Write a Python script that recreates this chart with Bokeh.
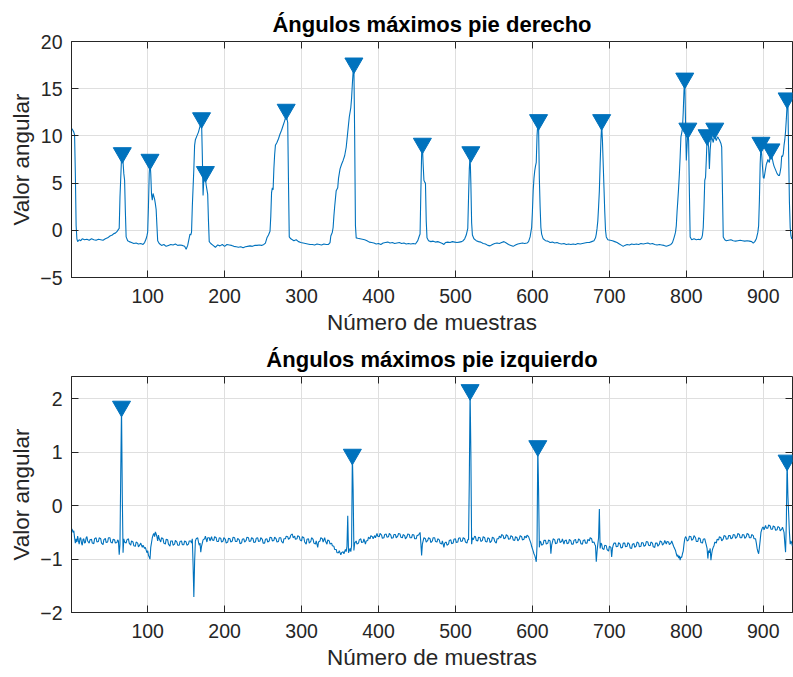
from bokeh.plotting import figure
from bokeh.models import Range1d, LinearAxis, FixedTicker
from bokeh.layouts import column
from bokeh.embed import file_html
from bokeh.resources import INLINE

# ---------------- data ----------------
x_ticks = [100, 200, 300, 400, 500, 600, 700, 800, 900]
right_yticks = [-5, 0, 5, 10, 15, 20]
left_yticks = [-2, -1, 0, 1, 2]

titles = ["Ángulos máximos pie derecho", "Ángulos máximos pie izquierdo"]
x_label = "Número de muestras"
y_label = "Valor angular"

# right foot signal: (sample, value)
right_samples = [
    (1, 10.8), (2, 10.7), (4, 10.4), (5, 10.1), (6, 6.0), (7, 0.5), (8, -0.9), (9, -1.2), (11, -1.0),
    (13, -1.1), (15, -0.9), (18, -1.0), (21, -0.95), (24, -1.05), (27, -0.9), (30, -1.0), (33, -1.05),
    (36, -0.95), (39, -1.0), (42, -1.05), (45, -0.9), (48, -0.8), (51, -0.6), (54, -0.5), (56, -0.35),
    (58, -0.3), (60, -0.15), (62, 0.1), (63, 0.2), (64, 3.5), (66, 7.6), (67, 8.1), (68, 7.2), (69, 6.0),
    (70, 5.3), (71, 2.0), (72, -0.7), (74, -1.1), (76, -1.2), (79, -1.3), (82, -1.4), (85, -1.35),
    (88, -1.45), (91, -1.4), (94, -1.5), (96, -1.3), (98, -0.9), (99, -0.6), (100, -0.2), (101, 2.5),
    (102, 6.0), (103, 7.4), (104, 6.0), (105, 3.8), (106, 3.2), (107, 3.9), (108, 3.6), (109, 3.3),
    (110, 2.8), (111, 2.2), (112, 0.5), (113, -1.1), (115, -1.4), (118, -1.6), (121, -1.5), (124, -1.7),
    (127, -1.6), (130, -1.5), (133, -1.55), (136, -1.45), (139, -1.6), (142, -1.55), (145, -1.6),
    (148, -1.7), (150, -2.0), (152, -1.6), (154, -0.8), (155, -0.4), (156, -0.5), (157, -0.2), (158, 2.5),
    (159, 4.5), (160, 6.5), (161, 9.0), (162, 9.6), (164, 10.0), (166, 10.4), (168, 11.0), (170, 11.6),
    (171, 8.0), (172, 3.7), (173, 5.5), (174, 6.0), (175, 5.5), (176, 4.8), (177, 4.3), (178, 3.8),
    (179, 1.0), (180, -1.2), (182, -1.4), (185, -1.6), (188, -1.8), (191, -1.55), (194, -1.65),
    (197, -1.5), (200, -1.7), (203, -1.5), (206, -1.55), (209, -1.6), (212, -1.7), (215, -1.75),
    (218, -1.8), (221, -1.75), (224, -1.85), (227, -1.75), (230, -1.7), (233, -1.65), (236, -1.7),
    (239, -1.6), (242, -1.6), (245, -1.55), (248, -1.6), (251, -1.5), (253, -1.35), (255, -0.8),
    (257, -0.5), (259, -0.1), (260, 1.5), (261, 4.0), (262, 4.5), (263, 4.3), (264, 6.5), (265, 8.0),
    (266, 9.0), (268, 9.3), (270, 9.7), (272, 10.2), (274, 10.6), (276, 11.1), (278, 11.6), (280, 12.2),
    (282, 11.4), (283, 5.0), (284, -0.7), (286, -0.9), (288, -1.0), (290, -1.1), (293, -1.0), (296, -1.2),
    (299, -1.3), (302, -1.35), (305, -1.4), (308, -1.45), (311, -1.5), (314, -1.5), (317, -1.55),
    (320, -1.45), (323, -1.5), (326, -1.55), (329, -1.45), (332, -1.5), (335, -1.5), (337, -1.3),
    (338, -0.6), (340, -0.2), (341, 0.3), (342, 1.5), (343, 2.5), (345, 4.2), (347, 4.5), (348, 5.5),
    (350, 6.5), (352, 7.0), (354, 7.4), (356, 7.9), (358, 8.8), (360, 10.4), (362, 12.0), (364, 13.0),
    (365, 14.0), (366, 15.5), (367, 16.8), (368, 17.3), (369, 10.0), (370, 0.5), (371, -0.8), (373, -0.85),
    (376, -0.9), (379, -0.95), (382, -1.0), (385, -1.1), (388, -1.25), (391, -1.3), (394, -1.35),
    (397, -1.45), (400, -1.4), (403, -1.5), (406, -1.35), (409, -1.3), (412, -1.25), (415, -1.35),
    (418, -1.3), (421, -1.4), (424, -1.35), (427, -1.3), (430, -1.4), (433, -1.35), (436, -1.45),
    (439, -1.4), (442, -1.45), (445, -1.4), (448, -1.45), (451, -1.1), (453, -0.6), (454, -0.4),
    (455, 4.0), (456, 8.0), (457, 9.0), (458, 7.0), (459, 5.3), (460, 5.1), (461, 5.0), (462, 1.0),
    (463, -0.8), (465, -1.1), (468, -1.2), (471, -1.15), (474, -1.25), (477, -1.2), (480, -1.3),
    (483, -1.4), (485, -1.5), (487, -1.3), (490, -1.25), (493, -1.3), (496, -1.2), (499, -1.25),
    (502, -1.3), (505, -1.25), (508, -1.2), (510, -1.1), (512, -0.9), (514, -0.5), (516, 0.2), (517, 3.5),
    (518, 6.5), (519, 8.0), (520, 5.0), (521, 0.8), (522, -0.5), (524, -0.9), (527, -1.1), (530, -1.2),
    (533, -1.25), (536, -1.4), (539, -1.45), (542, -1.6), (545, -1.65), (548, -1.5), (551, -1.4),
    (554, -1.35), (557, -1.4), (560, -1.3), (563, -1.2), (566, -1.35), (569, -1.5), (572, -1.6),
    (575, -1.7), (578, -1.55), (581, -1.45), (584, -1.4), (587, -1.35), (590, -1.4), (593, -1.35),
    (595, -1.2), (597, -0.7), (598, -0.2), (599, 0.3), (600, 2.0), (601, 4.2), (602, 5.5), (603, 6.3),
    (604, 6.8), (605, 7.2), (606, 10.0), (607, 11.3), (608, 11.0), (609, 5.5), (610, 2.5), (611, 0.3),
    (612, -0.4), (614, -0.9), (617, -1.1), (620, -1.15), (623, -1.3), (626, -1.25), (629, -1.35),
    (632, -1.3), (635, -1.4), (638, -1.45), (641, -1.4), (644, -1.5), (647, -1.45), (650, -1.5),
    (653, -1.45), (656, -1.5), (659, -1.4), (662, -1.45), (665, -1.4), (668, -1.35), (671, -1.3),
    (674, -1.3), (677, -1.2), (680, -1.1), (682, -0.8), (683, -0.4), (684, 0.2), (685, 1.0), (686, 2.5),
    (687, 4.2), (688, 7.0), (689, 9.5), (690, 11.2), (691, 9.5), (692, 7.0), (693, 4.5), (694, 2.0),
    (695, 0.0), (696, -0.7), (698, -1.0), (701, -1.05), (704, -1.1), (707, -1.2), (710, -1.3),
    (713, -1.45), (716, -1.6), (718, -1.7), (720, -1.6), (723, -1.5), (726, -1.55), (729, -1.45),
    (732, -1.5), (735, -1.45), (738, -1.5), (741, -1.4), (744, -1.45), (747, -1.4), (750, -1.35),
    (753, -1.45), (756, -1.4), (759, -1.5), (762, -1.55), (765, -1.5), (768, -1.55), (771, -1.6),
    (774, -1.7), (777, -1.6), (780, -1.5), (782, -1.3), (784, -0.8), (785, -0.5), (786, -0.2), (787, 0.5),
    (788, 2.0), (789, 3.2), (790, 4.5), (791, 6.0), (792, 7.8), (793, 9.9), (794, 10.3), (795, 10.8),
    (796, 12.5), (797, 14.8), (798, 15.9), (799, 11.3), (800, 7.4), (801, 9.0), (802, 10.5), (803, 9.5),
    (804, 4.0), (805, -0.7), (807, -1.0), (810, -0.9), (813, -1.0), (816, -0.95), (818, -1.0), (820, -0.8),
    (821, -0.5), (822, 0.3), (823, 2.5), (824, 5.3), (825, 5.6), (826, 7.5), (827, 9.7), (828, 9.5),
    (829, 8.8), (830, 6.5), (831, 8.5), (832, 9.5), (833, 9.9), (834, 9.6), (835, 9.3), (836, 9.8),
    (837, 10.3), (838, 9.7), (839, 9.5), (840, 9.8), (841, 9.9), (842, 9.7), (843, 9.6), (845, 9.2),
    (846, 8.8), (847, 4.0), (848, -0.7), (850, -1.0), (852, -1.1), (855, -1.05), (858, -1.0), (861, -1.1),
    (864, -1.15), (867, -1.1), (870, -1.05), (873, -1.1), (876, -1.15), (879, -1.1), (882, -1.15),
    (885, -1.2), (887, -1.35), (889, -1.2), (891, -0.9), (893, -0.2), (894, 0.5), (895, 3.2), (896, 7.0),
    (897, 9.0), (898, 8.0), (899, 6.7), (900, 5.6), (901, 5.5), (902, 6.0), (903, 6.5), (904, 7.0),
    (905, 7.2), (906, 7.5), (907, 7.3), (908, 7.2), (909, 8.0), (910, 8.4), (911, 7.9), (912, 7.5),
    (913, 7.1), (914, 6.8), (916, 6.4), (918, 6.0), (920, 5.8), (921, 5.8), (922, 6.2), (923, 6.7),
    (924, 7.9), (925, 7.8), (926, 8.1), (927, 9.0), (928, 9.6), (929, 10.5), (930, 11.8), (931, 13.3),
    (932, 13.7), (933, 8.0), (934, 3.0), (935, 0.3), (936, -0.6), (937, -0.9), (938, -0.8),
]
right_peak_x = [67, 103, 170, 175, 280, 368, 457, 520, 608, 690, 798, 802, 827, 837, 897, 910, 931]
right_peak_y = [8.2, 7.5, 11.9, 6.2, 12.8, 17.7, 9.2, 8.3, 11.7, 11.7, 16.1, 10.8, 10.1, 10.8, 9.3, 8.6, 14.0]

# left foot signal: (sample, value)
left_samples = [
    (1, -0.43), (2, -0.45), (3, -0.5), (4, -0.47), (5, -0.6), (6, -0.7), (7, -0.62), (8, -0.68),
    (9, -0.57), (10, -0.66), (11, -0.72), (12, -0.61), (13, -0.6), (14, -0.7), (15, -0.74), (16, -0.63),
    (17, -0.62), (18, -0.7), (19, -0.69), (20, -0.6), (21, -0.58), (22, -0.66), (24, -0.7), (25, -0.64),
    (27, -0.63), (28, -0.7), (30, -0.71), (31, -0.62), (33, -0.6), (34, -0.68), (36, -0.67), (37, -0.6),
    (39, -0.62), (40, -0.7), (42, -0.73), (43, -0.64), (45, -0.61), (46, -0.69), (48, -0.68), (49, -0.6),
    (51, -0.6), (52, -0.68), (54, -0.7), (55, -0.63), (57, -0.64), (58, -0.7), (60, -0.69), (61, -0.64),
    (62, -0.66), (63, -0.92), (64, -0.72), (65, 0.6), (66, 1.86), (67, 0.2), (68, -0.88), (69, -0.62),
    (70, -0.68), (72, -0.7), (73, -0.64), (75, -0.62), (76, -0.7), (78, -0.74), (79, -0.66), (81, -0.68),
    (82, -0.75), (84, -0.76), (85, -0.68), (87, -0.7), (88, -0.77), (90, -0.73), (91, -0.7), (93, -0.78),
    (94, -0.74), (96, -0.8), (97, -0.78), (99, -0.88), (100, -0.84), (101, -0.93), (102, -0.96),
    (103, -1.0), (104, -0.78), (106, -0.6), (107, -0.55), (108, -0.52), (109, -0.58), (110, -0.49),
    (111, -0.53), (112, -0.58), (113, -0.66), (114, -0.55), (115, -0.62), (117, -0.68), (118, -0.6),
    (120, -0.62), (121, -0.7), (123, -0.72), (124, -0.63), (126, -0.64), (127, -0.72), (129, -0.76),
    (130, -0.66), (132, -0.66), (133, -0.74), (135, -0.72), (136, -0.65), (138, -0.68), (139, -0.74),
    (141, -0.74), (142, -0.67), (144, -0.66), (145, -0.73), (147, -0.73), (148, -0.66), (150, -0.68),
    (151, -0.74), (153, -0.72), (154, -0.66), (156, -0.66), (157, -0.7), (158, -0.62), (159, -1.1),
    (160, -1.71), (161, -1.05), (162, -0.66), (163, -0.62), (165, -0.6), (166, -0.68), (167, -0.74),
    (168, -0.7), (169, -0.87), (170, -0.76), (171, -0.7), (172, -0.64), (174, -0.62), (175, -0.57),
    (177, -0.68), (178, -0.6), (180, -0.6), (181, -0.66), (183, -0.58), (184, -0.64), (186, -0.65),
    (187, -0.58), (189, -0.6), (190, -0.67), (192, -0.67), (193, -0.6), (195, -0.61), (196, -0.68),
    (198, -0.66), (199, -0.6), (201, -0.63), (202, -0.7), (204, -0.68), (205, -0.61), (207, -0.62),
    (208, -0.68), (210, -0.66), (211, -0.59), (213, -0.6), (214, -0.67), (216, -0.67), (217, -0.61),
    (219, -0.64), (220, -0.71), (222, -0.7), (223, -0.63), (225, -0.62), (226, -0.68), (228, -0.65),
    (229, -0.59), (231, -0.6), (232, -0.67), (234, -0.66), (235, -0.6), (237, -0.62), (238, -0.69),
    (240, -0.68), (241, -0.61), (243, -0.6), (244, -0.67), (246, -0.66), (247, -0.6), (249, -0.63),
    (250, -0.7), (252, -0.7), (253, -0.63), (255, -0.62), (256, -0.68), (258, -0.66), (259, -0.59),
    (261, -0.6), (262, -0.66), (264, -0.65), (265, -0.59), (267, -0.62), (268, -0.68), (270, -0.67),
    (271, -0.6), (273, -0.6), (274, -0.67), (276, -0.7), (277, -0.62), (279, -0.62), (280, -0.57),
    (282, -0.58), (283, -0.63), (285, -0.6), (286, -0.55), (288, -0.53), (289, -0.6), (291, -0.57),
    (292, -0.63), (294, -0.62), (295, -0.56), (297, -0.58), (298, -0.64), (300, -0.66), (301, -0.58),
    (303, -0.6), (304, -0.68), (306, -0.72), (307, -0.63), (309, -0.62), (310, -0.7), (312, -0.67),
    (313, -0.6), (315, -0.63), (316, -0.7), (318, -0.72), (319, -0.66), (321, -0.78), (322, -0.68),
    (324, -0.66), (325, -0.6), (327, -0.62), (328, -0.68), (330, -0.6), (331, -0.66), (333, -0.72),
    (334, -0.64), (336, -0.66), (337, -0.72), (339, -0.7), (340, -0.75), (342, -0.76), (343, -0.82),
    (345, -0.82), (346, -0.88), (348, -0.88), (349, -0.84), (351, -0.92), (352, -0.88), (354, -0.86),
    (355, -0.9), (357, -0.82), (358, -0.86), (359, -0.76), (360, -0.19), (361, -0.88), (363, -0.8),
    (364, -0.86), (365, -0.75), (366, 0.96), (367, 0.3), (368, -0.84), (369, -0.7), (371, -0.66),
    (372, -0.72), (374, -0.7), (375, -0.64), (377, -0.62), (378, -0.69), (380, -0.68), (381, -0.62),
    (383, -0.72), (384, -0.66), (386, -0.65), (387, -0.59), (389, -0.62), (390, -0.56), (392, -0.58),
    (393, -0.62), (395, -0.56), (396, -0.6), (398, -0.52), (399, -0.57), (401, -0.58), (402, -0.52),
    (404, -0.55), (405, -0.61), (407, -0.6), (408, -0.54), (410, -0.53), (411, -0.59), (413, -0.58),
    (414, -0.52), (416, -0.55), (417, -0.61), (419, -0.6), (420, -0.54), (422, -0.54), (423, -0.6),
    (425, -0.57), (426, -0.52), (428, -0.53), (429, -0.59), (431, -0.6), (432, -0.54), (434, -0.56),
    (435, -0.62), (437, -0.58), (438, -0.53), (440, -0.54), (441, -0.6), (443, -0.6), (444, -0.54),
    (446, -0.55), (447, -0.62), (449, -0.62), (450, -0.56), (452, -0.55), (454, -0.5), (455, -0.7),
    (456, -0.93), (457, -0.72), (458, -0.66), (459, -0.6), (461, -0.62), (462, -0.68), (464, -0.65),
    (465, -0.6), (467, -0.62), (468, -0.69), (470, -0.66), (471, -0.6), (473, -0.6), (474, -0.67),
    (476, -0.68), (477, -0.62), (479, -0.64), (480, -0.7), (482, -0.72), (483, -0.66), (485, -0.78),
    (486, -0.7), (488, -0.68), (489, -0.74), (491, -0.72), (492, -0.65), (494, -0.64), (495, -0.71),
    (497, -0.7), (498, -0.63), (500, -0.62), (501, -0.69), (503, -0.68), (504, -0.61), (506, -0.6),
    (507, -0.67), (509, -0.66), (510, -0.6), (512, -0.62), (513, -0.68), (515, -0.7), (516, -0.63),
    (517, -0.64), (518, 0.5), (519, 2.17), (520, 1.0), (521, -0.72), (522, -0.6), (523, -0.64),
    (525, -0.57), (526, -0.58), (527, -0.65), (529, -0.66), (530, -0.59), (532, -0.6), (533, -0.67),
    (535, -0.65), (536, -0.58), (538, -0.6), (539, -0.67), (541, -0.68), (542, -0.6), (544, -0.62),
    (545, -0.69), (547, -0.66), (548, -0.59), (550, -0.61), (551, -0.67), (553, -0.7), (554, -0.62),
    (556, -0.62), (557, -0.57), (559, -0.6), (560, -0.54), (562, -0.56), (563, -0.62), (565, -0.6),
    (566, -0.54), (568, -0.57), (569, -0.63), (571, -0.62), (572, -0.56), (574, -0.58), (575, -0.64),
    (577, -0.65), (578, -0.58), (580, -0.6), (581, -0.66), (583, -0.62), (584, -0.56), (586, -0.58),
    (587, -0.64), (589, -0.63), (590, -0.57), (592, -0.6), (593, -0.55), (595, -0.58), (596, -0.62),
    (598, -0.7), (599, -0.76), (601, -0.85), (602, -0.9), (603, -0.93), (604, -0.98), (605, -1.05),
    (606, -0.75), (607, 1.12), (608, 0.3), (609, -0.78), (610, -0.66), (611, -0.68), (612, -0.74),
    (614, -0.72), (615, -0.65), (617, -0.65), (618, -0.72), (620, -0.7), (621, -0.64), (623, -0.66),
    (624, -0.9), (625, -0.74), (626, -0.68), (627, -0.62), (629, -0.64), (630, -0.71), (632, -0.7),
    (633, -0.63), (635, -0.62), (636, -0.69), (638, -0.67), (639, -0.62), (641, -0.72), (642, -0.66),
    (644, -0.64), (645, -0.71), (647, -0.7), (648, -0.63), (650, -0.66), (651, -0.72), (653, -0.72),
    (654, -0.65), (656, -0.63), (657, -0.7), (659, -0.68), (660, -0.62), (662, -0.65), (663, -0.71),
    (665, -0.72), (666, -0.65), (668, -0.64), (669, -0.7), (671, -0.7), (672, -0.63), (674, -0.66),
    (675, -0.6), (677, -0.62), (678, -0.69), (680, -0.68), (681, -0.72), (682, -0.75), (683, -1.05),
    (684, -0.86), (685, -0.72), (686, -0.6), (687, -0.06), (688, -0.8), (689, -0.7), (690, -0.72),
    (691, -0.8), (693, -0.82), (694, -0.74), (696, -0.75), (697, -0.82), (699, -0.85), (700, -0.76),
    (702, -0.78), (703, -0.96), (704, -0.8), (705, -0.74), (706, -0.7), (708, -0.7), (709, -0.77),
    (711, -0.76), (712, -0.69), (714, -0.72), (715, -0.79), (717, -0.78), (718, -0.7), (720, -0.7),
    (721, -0.77), (723, -0.76), (724, -0.69), (726, -0.72), (727, -0.79), (729, -0.8), (730, -0.72),
    (732, -0.71), (733, -0.78), (735, -0.75), (736, -0.68), (738, -0.7), (739, -0.77), (741, -0.76),
    (742, -0.69), (744, -0.7), (745, -0.76), (747, -0.74), (748, -0.67), (750, -0.68), (751, -0.74),
    (753, -0.75), (754, -0.68), (756, -0.7), (757, -0.77), (759, -0.78), (760, -0.7), (762, -0.7),
    (763, -0.76), (765, -0.72), (766, -0.66), (768, -0.68), (769, -0.74), (771, -0.7), (772, -0.65),
    (774, -0.72), (775, -0.67), (777, -0.68), (778, -0.73), (780, -0.7), (781, -0.66), (783, -0.74),
    (784, -0.78), (786, -0.84), (787, -0.9), (788, -0.95), (789, -0.92), (790, -0.98), (791, -0.94),
    (792, -1.02), (793, -0.96), (794, -0.97), (795, -0.9), (796, -0.85), (797, -0.72), (798, -0.62),
    (799, -0.58), (800, -0.6), (801, -0.66), (803, -0.64), (804, -0.57), (806, -0.58), (807, -0.65),
    (809, -0.62), (810, -0.56), (812, -0.6), (813, -0.67), (815, -0.67), (816, -0.6), (818, -0.62),
    (819, -0.69), (821, -0.7), (822, -0.63), (824, -0.62), (825, -0.68), (826, -0.74), (827, -0.8),
    (828, -0.99), (829, -0.84), (830, -0.88), (831, -0.8), (832, -1.02), (833, -0.9), (834, -0.82),
    (835, -0.78), (836, -0.75), (837, -0.68), (839, -0.7), (840, -0.63), (842, -0.64), (843, -0.58),
    (845, -0.6), (846, -0.66), (848, -0.62), (849, -0.56), (851, -0.57), (852, -0.63), (854, -0.62),
    (855, -0.56), (857, -0.56), (858, -0.62), (860, -0.6), (861, -0.54), (863, -0.55), (864, -0.61),
    (866, -0.58), (867, -0.52), (869, -0.54), (870, -0.6), (872, -0.6), (873, -0.54), (875, -0.55),
    (876, -0.61), (878, -0.58), (879, -0.52), (881, -0.54), (882, -0.6), (884, -0.6), (885, -0.54),
    (887, -0.56), (888, -0.62), (890, -0.62), (891, -0.7), (892, -0.8), (893, -0.86), (894, -0.9),
    (895, -0.78), (896, -0.65), (897, -0.5), (898, -0.45), (899, -0.41), (900, -0.4), (901, -0.45),
    (903, -0.37), (904, -0.42), (906, -0.42), (907, -0.36), (909, -0.38), (910, -0.44), (912, -0.44),
    (913, -0.38), (915, -0.4), (916, -0.46), (918, -0.45), (919, -0.39), (921, -0.41), (922, -0.47),
    (924, -0.44), (925, -0.4), (927, -0.5), (928, -0.7), (929, -0.87), (930, -0.3), (931, 0.85),
    (932, 0.2), (933, -0.15), (934, -0.5), (935, -0.72), (936, -0.66), (937, -0.7), (938, -0.76),
]
left_peak_x = [66, 366, 519, 607, 931]
left_peak_y = [1.86, 0.96, 2.17, 1.12, 0.85]

# ---------------- styling ----------------
LINE = "#0072BD"
AX = "#262626"
GRID = "#dfdfdf"
FONT = "Liberation Sans"


def make_panel(title, samples, px, py, ylo, yhi, yticks, height, b_top, b_bottom):
    p = figure(width=793, height=height, output_backend="svg", toolbar_location=None,
               x_range=Range1d(1, 938), y_range=Range1d(ylo, yhi),
               min_border_left=71, min_border_right=1,
               min_border_top=b_top, min_border_bottom=b_bottom)
    p.title.text = title
    p.title.align = "center"
    p.title.text_font = FONT
    p.title.text_font_size = "22px"
    p.title.text_font_style = "bold"
    p.title.text_color = "#000000"
    p.title.standoff = 9

    p.outline_line_color = AX
    p.outline_line_width = 1
    p.background_fill_color = "white"
    p.border_fill_color = "white"

    for ax in (p.xaxis[0], p.yaxis[0]):
        ax.axis_line_color = AX
        ax.major_tick_line_color = AX
        ax.major_tick_in = 7
        ax.major_tick_out = 0
        ax.minor_tick_line_color = None
        ax.major_label_text_font = FONT
        ax.major_label_text_font_size = "19.5px"
        ax.major_label_text_color = AX
        ax.axis_label_text_font = FONT
        ax.axis_label_text_font_size = "22.5px"
        ax.axis_label_text_font_style = "normal"
        ax.axis_label_text_color = AX

    p.xaxis.ticker = FixedTicker(ticks=x_ticks)
    p.yaxis.ticker = FixedTicker(ticks=yticks)
    p.xaxis.axis_label = x_label
    p.yaxis.axis_label = y_label
    p.xaxis.major_label_standoff = 11
    p.xaxis.axis_label_standoff = 4
    p.yaxis.major_label_standoff = 9
    p.yaxis.axis_label_standoff = 3

    p.xgrid.ticker = FixedTicker(ticks=x_ticks)
    p.ygrid.ticker = FixedTicker(ticks=yticks)
    p.grid.grid_line_color = GRID
    p.grid.grid_line_width = 1

    # mirrored ticks on top and right (MATLAB box)
    top_ax = LinearAxis(ticker=FixedTicker(ticks=x_ticks),
                        major_label_overrides={t: "" for t in x_ticks})
    right_ax = LinearAxis(ticker=FixedTicker(ticks=yticks),
                          major_label_overrides={t: "" for t in yticks})
    for ax in (top_ax, right_ax):
        ax.axis_line_color = None
        ax.major_tick_line_color = AX
        ax.major_tick_in = 7
        ax.major_tick_out = 0
        ax.minor_tick_line_color = None
        ax.major_label_text_font_size = "0px"
        ax.major_label_standoff = 0
    p.add_layout(top_ax, "above")
    p.add_layout(right_ax, "right")

    xs = [s[0] for s in samples]
    ys = [s[1] for s in samples]
    p.line(xs, ys, line_color=LINE, line_width=1.1)
    p.scatter(px, py, marker="inverted_triangle", size=18,
              fill_color=LINE, line_color=LINE)
    return p


p1 = make_panel(titles[0], right_samples, right_peak_x, right_peak_y, -5, 20, right_yticks,
                340, 41, 63)
p2 = make_panel(titles[1], left_samples, left_peak_x, left_peak_y, -2, 2.42, left_yticks,
                337, 34, 65)

layout = column(p1, p2, spacing=0)
open("out.html", "w").write(file_html(layout, INLINE))
